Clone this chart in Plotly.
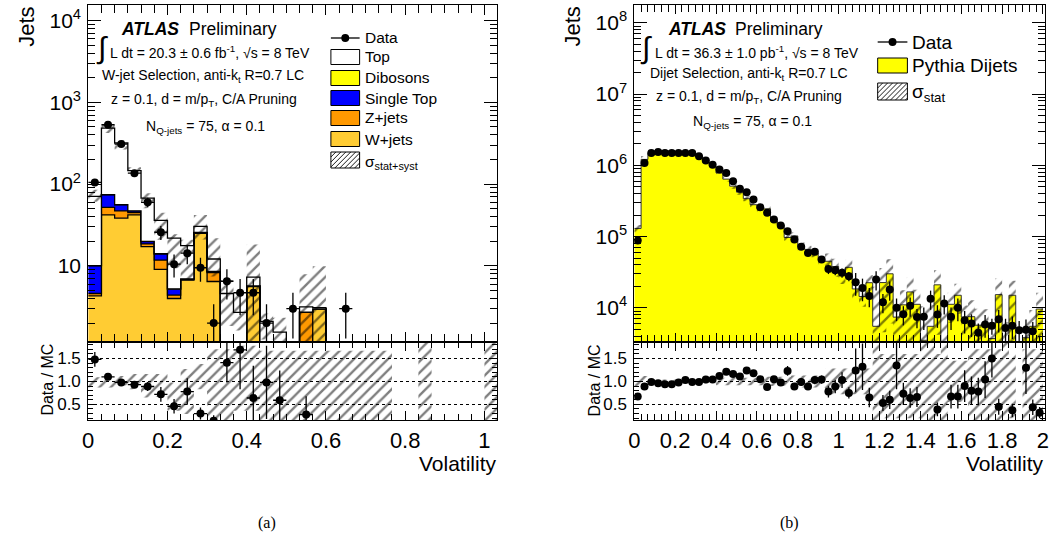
import numpy as np
import plotly.graph_objects as go

W, H = 1057, 547
FONT = "Liberation Sans"

# ======================= (a) W-jet selection =======================
BIN_W = 1.0 / 30.0
L_NB = 31
left_data = [105, 532, 309, 136, 60, 25.8, 10.5, 14.3, 9.5, 2, 6.5, 4.7, 4.7, 2, None, 3, None, None, None, 3,
             None, None, None, None, None, None, None, None, None, None, None]
left_data_err = [10, 23, 18, 12, 8, 5, 3.3, 3.8, 3.1, 1.4, 2.6, 2.2, 2.2, 1.4, 0, 1.7, 0, 0, 0, 1.7,
                 0, 0, 0, 0, 0, 0, 0, 0, 0, 0, 0]
left_wjets = [4.3, 42, 38.4, 42, 17.2, 9.1, 4.0, 6.7, 25.1, 6.45, 0, 0, 5.6, 0, 0, 0, 0, 2.98, 0, 0,
              0, 0, 0, 0, 0, 0, 0, 0, 0, 0, 0]
left_zjets = [0.3, 10, 8.6, 2.9, 1.4, 2.7, 0.4, 0.1, 0.3, 1.85, 0, 0, 0.1, 0, 0, 0, 2.73, 0, 0, 0,
              0, 0, 0, 0, 0, 0, 0, 0, 0, 0, 0]
left_stop = [5.4, 22, 9.0, 2.1, 1.3, 2.2, 0.8, 0.1, 0.2, 0.2, 0, 0, 0, 0, 0, 0, 0, 0, 0, 0,
             0, 0, 0, 0, 0, 0, 0, 0, 0, 0, 0]
left_dib = [0.1, 0.3, 0.3, 0.2, 0.1, 0.1, 0.05, 0.05, 0.1, 0.05, 0, 0, 0, 0, 0, 0, 0, 0, 0, 0,
            0, 0, 0, 0, 0, 0, 0, 0, 0, 0, 0]
left_top = [60.8, 410, 262, 99, 47.5, 22, 16.6, 10.8, 4.7, 3.6, 4.6, 2.7, 1.6, 2.1, 1.55, 0, 0.43, 0.12, 0.3, 0.3,
            0.3, 0.3, 0.3, 0, 0, 0.3, 0, 0, 0, 0, 0.3]
# relative MC uncertainty (main panel)
left_unc_lo = [0.14, 0.13, 0.17, 0.12, 0.25, 0.42, 0.57, 0.62, 0.31, 0.39, 0.6, 0.4, 0.86, 0.4, 0.25, 0, 1.0, 1.0, 1.0, 1.0,
               1.0, 1.0, 1.0, 0, 0, 1.0, 0, 0, 0, 0, 1.0]
left_unc_hi = [0.2, 0.1, 0.08, 0.1, 0.15, 0.24, 0.12, 0.18, 0.38, 0.8, 0.46, 0.7, 1.5, 0.25, 0.5, 0, 1.5, 2.2, 1.0, 1.0,
               1.0, 1.0, 1.0, 0, 0, 1.0, 0, 0, 0, 0, 1.0]
# ratio panel
left_ratio = [1.48, 1.10, 0.98, 0.93, 0.89, 0.72, 0.46, 0.78, 0.30, 0.145, 1.41, 1.69, 0.64, 0.98, 0.59, None, 0.28, None,
              None, None, None, None, None, None, None, None, None, None, None, None, None]
left_ratio_err = [0.16, 0.05, 0.05, 0.07, 0.1, 0.16, 0.16, 0.29, 0.13, 0.12, 0.43, 0.86, 0.7, 0.8, 0.65, 0, 0.4, 0,
                  0, 0, 0, 0, 0, 0, 0, 0, 0, 0, 0, 0, 0]
left_rband_lo = [0.87, 0.87, 0.91, 0.83, 0.65, 0.66, 0.36, 0.29, 0.83, 0.04, 0.04, 0.36, 0.36, 0.15, 0.15, 0.15, 0.15, 0.15,
                 0.15, 0.15, 0.15, 0.15, 0.15, None, None, 0.1, None, None, None, None, 0.1]
left_rband_hi = [1.09, 1.09, 1.12, 1.16, 1.16, 1.16, 0.98, 1.27, 1.38, 1.70, 1.70, 1.78, 1.78, 1.67, 1.67, 1.67, 1.67, 1.67,
                 1.67, 1.67, 1.67, 1.67, 1.67, None, None, 1.9, None, None, None, None, 1.9]

# ======================= (b) Dijet selection =======================
R_NB = 60
right_data = [8.8e4, 1.08e6, 1.49e6, 1.54e6, 1.49e6, 1.49e6, 1.49e6, 1.49e6, 1.49e6, 1.34e6,
              1.17e6, 1.02e6, 8.7e5, 7.8e5, 5.97e5, 4.7e5, 4.2e5, 3.3e5, 2.58e5, 2.15e5,
              1.73e5, 1.43e5, 1.19e5, 9.1e4, 7.2e4, 5.9e4, 6.1e4, 4.75e4, 3.5e4, 3.37e4,
              3.1e4, 2.77e4, 2.28e4, 1.9e4, 1.46e4, 2.5e4, 1.2e4, 1.8e4, 1.0e4, 8.1e3,
              1.07e4, 7.4e3, 7.5e3, 1.34e4, 8.05e3, 1.15e4, 7.5e3, 1.0e4, 6.7e3, 6.0e3,
              4.45e3, 5.85e3, 5.6e3, 6.9e3, 5.2e3, 5.6e3, 4.85e3, 4.9e3, 4.7e3, 3.0e3]
right_data_relerr = [0.01, 0.01, 0.01, 0.01, 0.01, 0.01, 0.01, 0.01, 0.01, 0.01,
                     0.01, 0.01, 0.04, 0.04, 0.04, 0.04, 0.04, 0.04, 0.04, 0.04,
                     0.04, 0.04, 0.08, 0.08, 0.08, 0.08, 0.08, 0.08, 0.15, 0.15,
                     0.15, 0.15, 0.35, 0.35, 0.3, 0.3, 0.3, 0.3, 0.35, 0.3,
                     0.3, 0.3, 0.35, 0.3, 0.35, 0.3, 0.35, 0.35, 0.35, 0.35,
                     0.35, 0.35, 0.25, 0.35, 0.35, 0.35, 0.35, 0.4, 0.35, 0.35]
right_mc = [1.3e5, 1.21e6, 1.5e6, 1.6e6, 1.58e6, 1.58e6, 1.52e6, 1.45e6, 1.5e6, 1.35e6,
            1.12e6, 9.8e5, 7.8e5, 6.4e5, 5.1e5, 4.2e5, 3.4e5, 2.8e5, 2.45e5, 2.45e5,
            1.65e5, 1.46e5, 9.7e4, 1.02e5, 7.3e4, 6.6e4, 5.9e4, 4.6e4, 4.5e4, 3.8e4,
            3.0e4, 3.7e4, 1.84e4, 1.44e4, 2.25e4, 5.5e3, 2.26e4, 3.0e4, 7.4e3, 1.1e4,
            1.67e4, 1.12e4, 3.5e3, 5.5e3, 2.1e4, 3.0e3, 1.12e4, 1.5e4, 7.4e3, 7.5e3,
            5.7e3, 5.6e3, 3.7e3, 1.53e4, 2.5e3, 1.5e4, 0, 3.8e3, 5.5e3, 9.6e3]
right_unc_lo = [0.12, 0.12, 0.04, 0.04, 0.04, 0.04, 0.04, 0.04, 0.04, 0.04,
                0.04, 0.04, 0.08, 0.08, 0.08, 0.08, 0.08, 0.08, 0.08, 0.1,
                0.1, 0.1, 0.1, 0.13, 0.13, 0.13, 0.13, 0.13, 0.28, 0.28,
                0.28, 0.28, 0.28, 0.28, 0.28, 1.0, 0.8, 0.8, 0.8, 0.8,
                0.8, 0.8, 1.0, 1.0, 0.8, 1.0, 0.45, 0.45, 0.45, 0.85,
                0.85, 0.85, 0.85, 0.85, 1.0, 0.8, 0, 0.85, 0.85, 0.85]
right_unc_hi = [0.12, 0.12, 0.04, 0.04, 0.04, 0.04, 0.04, 0.04, 0.04, 0.04,
                0.04, 0.04, 0.08, 0.08, 0.08, 0.08, 0.08, 0.08, 0.08, 0.1,
                0.1, 0.1, 0.1, 0.13, 0.13, 0.13, 0.13, 0.13, 0.28, 0.28,
                0.28, 0.28, 0.28, 0.28, 0.28, 2.6, 0.6, 0.6, 0.6, 0.6,
                0.6, 0.6, 2.0, 1.0, 0.6, 2.0, 0.45, 0.45, 0.45, 0.7,
                0.7, 0.7, 0.7, 0.7, 1.5, 0.6, 0, 0.7, 0.7, 0.7]
right_ratio = [0.67, 0.89, 0.99, 0.96, 0.94, 0.94, 0.98, 1.03, 0.99, 0.99,
               1.04, 1.04, 1.12, 1.21, 1.16, 1.11, 1.24, 1.18, 1.05, 0.88,
               1.05, 0.98, 1.23, 0.89, 0.99, 0.89, 1.03, 1.04, 0.78, 0.89,
               1.03, 0.75, 1.24, 1.32, 0.65, None, 0.53, 0.60, 1.35, 0.73,
               0.64, 0.66, None, None, 0.39, None, 0.67, 0.67, 0.90, 0.80,
               0.78, 1.04, 1.50, 0.45, None, 0.37, None, 1.30, 0.44, 0.32]

# ======================= geometry (pixels) =======================
LX0, LX1 = 83, 496
RX0, RX1 = 634.3, 1049
MAIN_T, MAIN_B = 5, 342
RAT_T, RAT_B = 342, 420


def dom_x(a, b):
    return [a / W, b / W]


def dom_y(top, bot):
    return [1 - bot / H, 1 - top / H]


fig = go.Figure()

COL_W = "#FFCC33"
COL_Z = "#FF9900"
COL_ST = "#0000FF"
COL_DIB = "#FFFF00"
COL_PY = "#FFFF00"
HATCH = dict(shape="/", fgcolor="black", size=8, solidity=0.3)


def edges_for(n):
    return np.arange(n + 1) * BIN_W


def step_trace(edges, vals, xa, ya, fill=None, fillcolor=None, lcolor="black", lwidth=1.0):
    yv = list(vals) + [vals[-1]]
    return go.Scatter(x=list(edges), y=yv, mode="lines", line=dict(shape="hv", color=lcolor, width=lwidth),
                      fill=fill, fillcolor=fillcolor, xaxis=xa, yaxis=ya, showlegend=False, hoverinfo="skip")


def band_trace(edges, lo, hi, xa, ya):
    xs, ys = [], []
    for i in range(len(lo)):
        if lo[i] is None or hi[i] is None or hi[i] <= lo[i]:
            continue
        x0, x1 = edges[i], edges[i + 1]
        xs += [x0, x1, x1, x0, x0, None]
        ys += [lo[i], lo[i], hi[i], hi[i], lo[i], None]
    return go.Scatter(x=xs, y=ys, mode="lines", line=dict(width=0), fill="toself",
                      fillcolor="rgba(0,0,0,0)", fillpattern=HATCH, xaxis=xa, yaxis=ya,
                      showlegend=False, hoverinfo="skip")


def data_trace(centers, vals, err_hi, err_lo, xa, ya):
    return go.Scatter(x=list(centers), y=vals, mode="markers",
                      marker=dict(color="black", size=8),
                      error_y=dict(type="data", array=err_hi, arrayminus=err_lo, color="black", thickness=1.3, width=0),
                      error_x=dict(type="constant", value=BIN_W / 2, color="black", thickness=1.3, width=0),
                      xaxis=xa, yaxis=ya, showlegend=False, hoverinfo="skip")


# ---------------- left main ----------------
le = edges_for(L_NB)
lc = (le[:-1] + le[1:]) / 2
FLOOR_L = 0.05
cum = np.zeros(L_NB)
fig.add_trace(step_trace(le, [FLOOR_L] * L_NB, "x", "y", lwidth=0))
for comp, col in [(left_wjets, COL_W), (left_zjets, COL_Z), (left_stop, COL_ST), (left_dib, COL_DIB), (left_top, "white")]:
    cum = cum + np.array(comp, dtype=float)
    fig.add_trace(step_trace(le, np.maximum(cum, FLOOR_L), "x", "y", fill="tonexty", fillcolor=col, lwidth=1.3))
mc_left = cum
blo, bhi = [], []
for i in range(L_NB):
    if mc_left[i] > 0 and left_unc_hi[i] > 0:
        blo.append(max(mc_left[i] * (1 - left_unc_lo[i]), FLOOR_L))
        bhi.append(mc_left[i] * (1 + left_unc_hi[i]))
    else:
        blo.append(None)
        bhi.append(None)
fig.add_trace(band_trace(le, blo, bhi, "x", "y"))
ey_hi = [e for e in left_data_err]
ey_lo = [min(e, 0.99 * v) if v is not None else 0 for e, v in zip(left_data_err, left_data)]
fig.add_trace(data_trace(lc, left_data, ey_hi, ey_lo, "x", "y"))

# ---------------- left ratio ----------------
fig.add_trace(band_trace(le, left_rband_lo, left_rband_hi, "x2", "y2"))
fig.add_trace(data_trace(lc, left_ratio, left_ratio_err, left_ratio_err, "x2", "y2"))

# ---------------- right main ----------------
re_ = edges_for(R_NB)
rc = (re_[:-1] + re_[1:]) / 2
FLOOR_R = 100.0
fig.add_trace(step_trace(re_, [FLOOR_R] * R_NB, "x3", "y3", lwidth=0))
fig.add_trace(step_trace(re_, np.maximum(np.array(right_mc, dtype=float), FLOOR_R), "x3", "y3",
                         fill="tonexty", fillcolor=COL_PY, lcolor="#333333", lwidth=1.0))
rblo, rbhi = [], []
for i in range(R_NB):
    if right_mc[i] > 0 and right_unc_hi[i] > 0:
        rblo.append(max(right_mc[i] * (1 - right_unc_lo[i]), FLOOR_R))
        rbhi.append(right_mc[i] * (1 + right_unc_hi[i]))
    else:
        rblo.append(None)
        rbhi.append(None)
fig.add_trace(band_trace(re_, rblo, rbhi, "x3", "y3"))
r_err = [v * e for v, e in zip(right_data, right_data_relerr)]
fig.add_trace(data_trace(rc, right_data, r_err, r_err, "x3", "y3"))

# ---------------- right ratio ----------------
rrlo = [1 - l if m > 0 else None for l, m in zip(right_unc_lo, right_mc)]
rrhi = [1 + h if m > 0 else None for h, m in zip(right_unc_hi, right_mc)]
fig.add_trace(band_trace(re_, rrlo, rrhi, "x4", "y4"))
rr_err = [(r * e * 1.1 if r is not None else 0) for r, e in zip(right_ratio, right_data_relerr)]
fig.add_trace(data_trace(rc, right_ratio, rr_err, rr_err, "x4", "y4"))

# ======================= axes =======================
base_ax = dict(showline=True, linecolor="black", linewidth=1, mirror="allticks", ticks="inside",
               tickcolor="black", showgrid=False, zeroline=False, tickfont=dict(family=FONT, size=22, color="black"))


def log_minor(lo_dec, hi_dec):
    return [m * 10 ** d for d in range(lo_dec, hi_dec + 1) for m in range(2, 10)]


xmaj_l = [0, 0.2, 0.4, 0.6, 0.8, 1.0]
xmaj_r = [0, 0.2, 0.4, 0.6, 0.8, 1.0, 1.2, 1.4, 1.6, 1.8, 2.0]
YFONT = dict(family=FONT, size=21, color="black")
RFONT = dict(family=FONT, size=17, color="black")

layout_axes = dict(
    xaxis=dict(base_ax, domain=dom_x(LX0, LX1), range=[0, (LX1 - LX0) / 400.0], anchor="y",
               tickvals=xmaj_l, showticklabels=False, ticklen=10,
               minor=dict(ticks="inside", ticklen=8, dtick=BIN_W, tick0=0, tickcolor="black", showgrid=False)),
    yaxis=dict(base_ax, domain=dom_y(MAIN_T, MAIN_B), type="log", range=[0.07, 4.19], anchor="x",
               tickvals=[10, 100, 1000, 10000], ticktext=["10", "10<sup>2</sup>", "10<sup>3</sup>", "10<sup>4</sup>"],
               ticklen=13, ticklabelstandoff=2, tickfont=YFONT,
               minor=dict(ticks="inside", ticklen=7, tickvals=log_minor(0, 4), tickcolor="black", showgrid=False)),
    xaxis2=dict(base_ax, domain=dom_x(LX0, LX1), range=[0, (LX1 - LX0) / 400.0], anchor="y2", matches="x",
                tickvals=xmaj_l, ticktext=["0", "0.2", "0.4", "0.6", "0.8", "1"], ticklen=9, ticklabelstandoff=1,
                minor=dict(ticks="inside", ticklen=6, dtick=BIN_W, tick0=0, tickcolor="black", showgrid=False)),
    yaxis2=dict(base_ax, domain=dom_y(RAT_T, RAT_B), range=[0.16, 1.86], anchor="x2",
                tickvals=[0.5, 1.0, 1.5], ticktext=["0.5", "1.0", "1.5"], ticklen=8, ticklabelstandoff=3,
                tickfont=RFONT,
                showgrid=True, gridcolor="black", griddash="dot", gridwidth=1,
                minor=dict(ticks="inside", ticklen=5, dtick=0.1, tick0=0, tickcolor="black", showgrid=False)),
    xaxis3=dict(base_ax, domain=dom_x(RX0, RX1), range=[0, (RX1 - RX0) / 206.3], anchor="y3",
                tickvals=xmaj_r, showticklabels=False, ticklen=9,
                minor=dict(ticks="inside", ticklen=7, dtick=BIN_W, tick0=0, tickcolor="black", showgrid=False)),
    yaxis3=dict(base_ax, domain=dom_y(MAIN_T, MAIN_B), type="log", range=[3.52, 8.25], anchor="x3",
                tickvals=[1e4, 1e5, 1e6, 1e7, 1e8],
                ticktext=["10<sup>4</sup>", "10<sup>5</sup>", "10<sup>6</sup>", "10<sup>7</sup>", "10<sup>8</sup>"],
                ticklen=13, ticklabelstandoff=2, tickfont=YFONT,
                minor=dict(ticks="inside", ticklen=7, tickvals=log_minor(3, 8), tickcolor="black", showgrid=False)),
    xaxis4=dict(base_ax, domain=dom_x(RX0, RX1), range=[0, (RX1 - RX0) / 206.3], anchor="y4", matches="x3",
                tickvals=xmaj_r, ticktext=["0", "0.2", "0.4", "0.6", "0.8", "1", "1.2", "1.4", "1.6", "1.8", "2"],
                ticklen=9, ticklabelstandoff=1,
                minor=dict(ticks="inside", ticklen=6, dtick=BIN_W, tick0=0, tickcolor="black", showgrid=False)),
    yaxis4=dict(base_ax, domain=dom_y(RAT_T, RAT_B), range=[0.16, 1.86], anchor="x4",
                tickvals=[0.5, 1.0, 1.5], ticktext=["0.5", "1.0", "1.5"], ticklen=8, ticklabelstandoff=3,
                tickfont=RFONT,
                showgrid=True, gridcolor="black", griddash="dot", gridwidth=1,
                minor=dict(ticks="inside", ticklen=5, dtick=0.1, tick0=0, tickcolor="black", showgrid=False)),
)

# ======================= annotations & legend =======================
anns = []
shapes = []


def ann(text, x, y, size, xanchor="left", yanchor="middle", angle=0, family=FONT):
    anns.append(dict(text=text, x=x / W, y=1 - y / H, xref="paper", yref="paper", xanchor=xanchor,
                     yanchor=yanchor, showarrow=False, textangle=angle, borderpad=0,
                     font=dict(size=size, family=family, color="black")))


def rect(x0, y0, x1, y1, fill, lw=1):
    shapes.append(dict(type="rect", xref="paper", yref="paper", x0=x0 / W, x1=x1 / W, y0=1 - y1 / H, y1=1 - y0 / H,
                       fillcolor=fill, line=dict(color="black", width=lw)))


def hatch_box(x0, y0, x1, y1, sp=5):
    rect(x0, y0, x1, y1, "white")
    h = y1 - y0
    t = x0 - h
    while t < x1:
        s0 = max(0, x0 - t)
        s1 = min(h, x1 - t)
        if s1 > s0:
            shapes.append(dict(type="line", xref="paper", yref="paper",
                               x0=(t + s0) / W, y0=1 - (y1 - s0) / H, x1=(t + s1) / W, y1=1 - (y1 - s1) / H,
                               line=dict(color="black", width=0.9)))
        t += sp


def data_legend(x0, x1, y, r=4):
    shapes.append(dict(type="line", xref="paper", yref="paper", x0=x0 / W, x1=x1 / W, y0=1 - y / H, y1=1 - y / H,
                       line=dict(color="black", width=1.3)))
    xm = (x0 + x1) / 2
    shapes.append(dict(type="circle", xref="paper", yref="paper", x0=(xm - r) / W, x1=(xm + r) / W,
                       y0=1 - (y + r) / H, y1=1 - (y - r) / H, fillcolor="black", line=dict(color="black", width=0)))


# left texts
ann("<b><i>ATLAS</i></b>", 115, 29, 17.5)
ann("Preliminary", 184, 29, 17.5)
ann("∫", 90, 48, 30)
ann("L dt = 20.3 ± 0.6 fb<sup>-1</sup>, √s = 8 TeV", 104, 52, 14)
ann("W-jet Selection, anti-k<sub>t</sub> R=0.7 LC", 96, 76, 14)
ann("z = 0.1, d = m/p<sub>T</sub>, C/A Pruning", 105, 100, 14)
ann("N<sub>Q-jets</sub> = 75, α = 0.1", 140, 127, 14)

# left legend
LBX0, LBX1, LTX = 328, 357, 361
data_legend(LBX0, LBX1, 38)
ann("Data", LTX, 38, 15.5)
for label, col, y in [("Top", "white", 57), ("Dibosons", COL_DIB, 78), ("Single Top", COL_ST, 98),
                      ("Z+jets", COL_Z, 118), ("W+jets", COL_W, 139)]:
    rect(LBX0, y - 7.5, LBX1, y + 7.5, col)
    ann(label, LTX, y, 15.5)
hatch_box(LBX0, 152, LBX1, 168)
ann("σ<sub>stat+syst</sub>", LTX, 162, 15.5)

# right texts
ann("<b><i>ATLAS</i></b>", 667, 29, 17.5)
ann("Preliminary", 735, 29, 17.5)
ann("∫", 639, 48, 30)
ann("L dt = 36.3 ± 1.0 pb<sup>-1</sup>, √s = 8 TeV", 654, 52, 14)
ann("Dijet Selection, anti-k<sub>t</sub> R=0.7 LC", 649, 74, 14)
ann("z = 0.1, d = m/p<sub>T</sub>, C/A Pruning", 655, 97, 14)
ann("N<sub>Q-jets</sub> = 75, α = 0.1", 693, 122, 14)

# right legend
RBX0, RBX1, RTX = 880, 910, 914
data_legend(RBX0, RBX1, 42)
ann("Data", RTX, 42, 19)
rect(RBX0, 58, RBX1, 73, COL_PY)
ann("Pythia Dijets", RTX, 65, 19)
hatch_box(RBX0, 83, RBX1, 100)
ann("σ<sub>stat</sub>", RTX, 93, 19)

# axis titles
ann("Jets", 20, 6, 22, xanchor="center", yanchor="top", angle=-90)
ann("Jets", 571, 6, 22, xanchor="center", yanchor="top", angle=-90)
ann("Data / MC", 41, 380, 16, xanchor="center", angle=-90)
ann("Data / MC", 594, 380, 16, xanchor="center", angle=-90)
ann("Volatility", 497, 463, 21, xanchor="right")
ann("Volatility", 1049, 463, 21, xanchor="right")
ann("(a)", 263, 523, 16, xanchor="center", family="Liberation Serif")
ann("(b)", 791, 523, 16, xanchor="center", family="Liberation Serif")

fig.update_layout(
    width=W, height=H, autosize=False,
    margin=dict(l=0, r=0, t=0, b=0),
    paper_bgcolor="white", plot_bgcolor="white",
    showlegend=False, barmode="overlay",
    font=dict(family=FONT, color="black"),
    annotations=anns, shapes=shapes,
    **layout_axes,
)

fig.write_html("out.html")
